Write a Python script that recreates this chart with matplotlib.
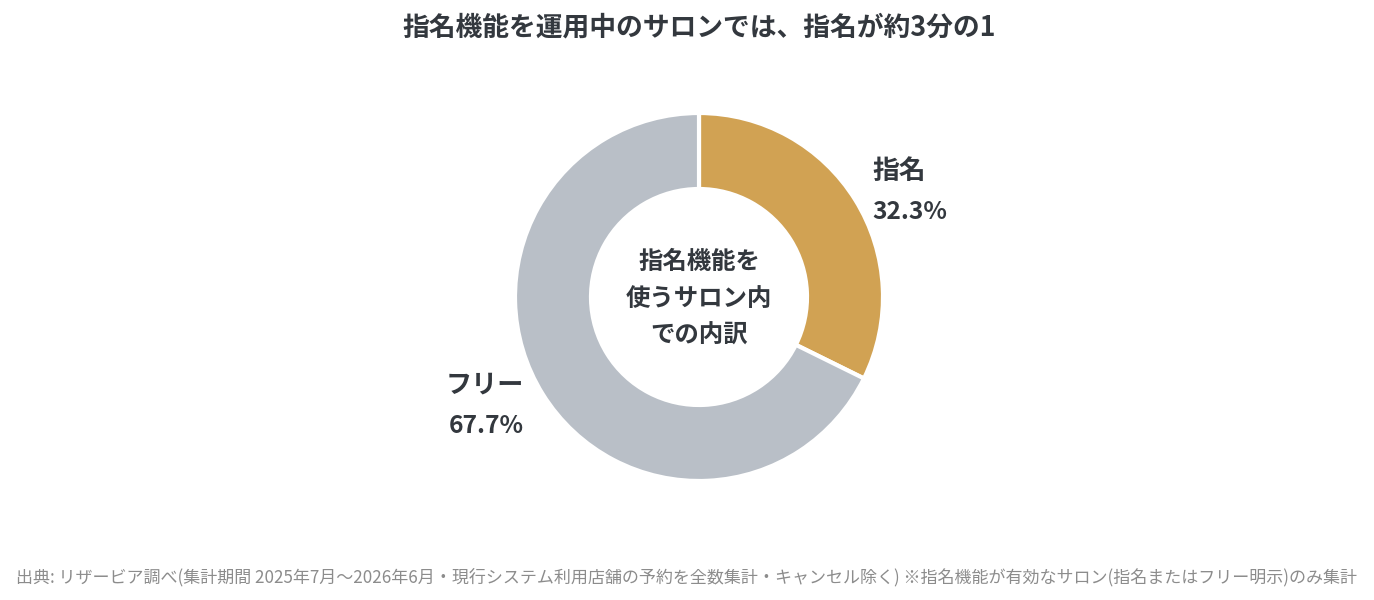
import matplotlib
matplotlib.use("Agg")
import matplotlib.pyplot as plt

categories = ["指名", "フリー"]
shares = [32.3, 67.7]
colors = ["#D1A253", "#B9BFC7"]
title = "指名機能を運用中のサロンでは、指名が約3分の1"
center_text = "指名機能を\n使うサロン内\nでの内訳"
footnote = ("出典: リザービア調べ(集計期間 2025年7月〜2026年6月・現行システム利用店舗の予約を全数集計・キャンセル除く) "
            "※指名機能が有効なサロン(指名またはフリー明示)のみ集計")

plt.rcParams['font.family'] = ['Noto Sans CJK JP', 'DejaVu Sans']
W, H = 1374, 600
fig = plt.figure(figsize=(W / 100, H / 100), dpi=100)
ax = fig.add_axes([0, 0, 1, 1])

cx, cy, R = 699, H - 297, 184
ax.pie(shares, colors=colors, startangle=90, counterclock=False,
       center=(cx, cy), radius=R, frame=True,
       wedgeprops=dict(width=R - 108, edgecolor='white', linewidth=3))
ax.set_xlim(0, W)
ax.set_ylim(0, H)
ax.set_aspect('auto')
ax.axis('off')

txt = "#33383E"
ax.text(699, H - 28, title, ha='center', va='center', fontsize=19.3,
        fontweight='bold', color=txt)
ax.text(cx, H - 299, center_text, ha='center', va='center', fontsize=17.6,
        fontweight='bold', color=txt, linespacing=1.68)

ax.text(872, H - 171, categories[0], ha='left', va='center', fontsize=19.3,
        fontweight='bold', color=txt)
ax.text(872, H - 212, f"{shares[0]}%", ha='left', va='center', fontsize=17.7,
        fontweight='bold', color=txt)
ax.text(524, H - 385, categories[1], ha='right', va='center', fontsize=18.8,
        fontweight='bold', color=txt)
ax.text(524, H - 426, f"{shares[1]}%", ha='right', va='center', fontsize=17.7,
        fontweight='bold', color=txt)

ax.text(16, H - 577, footnote, ha='left', va='center', fontsize=12.25,
        color="#8C8C8C")

fig.savefig("out.png", dpi=100, facecolor='white')
